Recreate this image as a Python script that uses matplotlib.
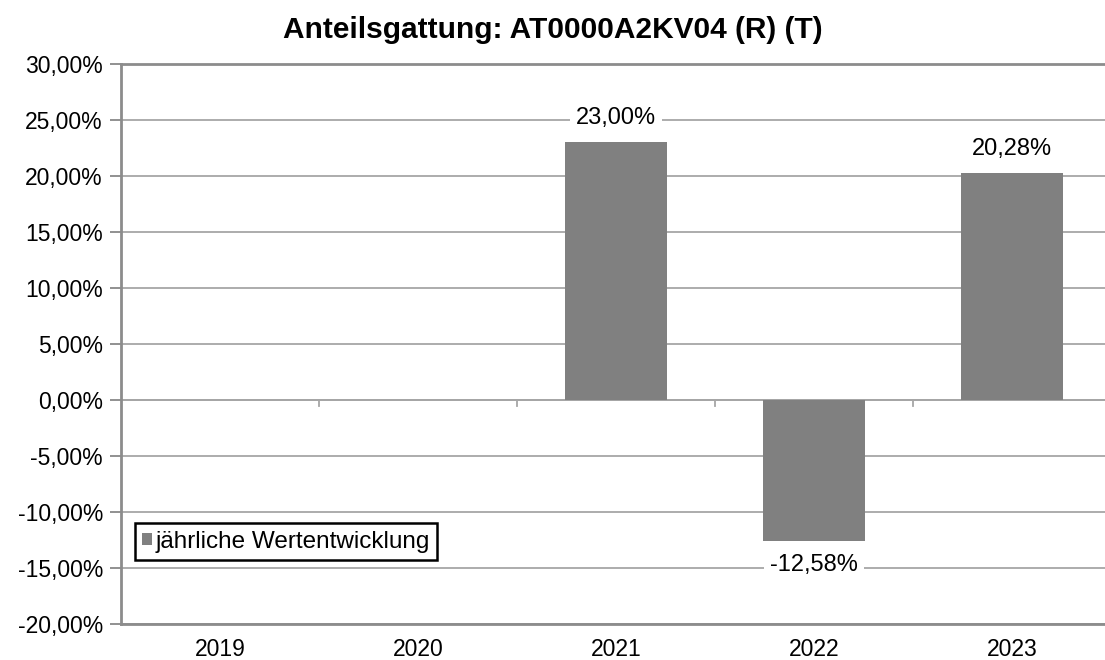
import numpy as np
import matplotlib.pyplot as plt
from matplotlib.ticker import FuncFormatter

plt.rcParams['font.family'] = ['Liberation Sans', 'DejaVu Sans']

# Daten
jahre = ['2019', '2020', '2021', '2022', '2023']
werte = [np.nan, np.nan, 23.00, -12.58, 20.28]
titel = 'Anteilsgattung: AT0000A2KV04 (R) (T)'
legende = 'jährliche Wertentwicklung'

grau = '#808080'
linie = '#a6a6a6'
fs = 16.5

fig = plt.figure(figsize=(11.05, 6.6), dpi=100)
ax = fig.add_axes([121 / 1105, 36 / 660, 990 / 1105, 560 / 660])

x = np.arange(len(jahre))
ax.bar(x, werte, width=0.52, color=grau, label=legende, zorder=3)

ax.set_xlim(-0.5, len(jahre) - 0.5)
ax.set_ylim(-20, 30)
ax.set_yticks(np.arange(-20, 31, 5))
ax.yaxis.set_major_formatter(FuncFormatter(lambda v, p: f'{v:.2f}%'.replace('.', ',')))
ax.set_xticks(x)
ax.set_xticklabels(jahre)
ax.tick_params(axis='x', length=0, pad=10, labelsize=fs)
ax.tick_params(axis='y', length=8, width=1.3, color='#888888', labelsize=fs, pad=5)

ax.yaxis.grid(True, color=linie, linewidth=1.3, zorder=0)
ax.axhline(0, color=linie, linewidth=1.3, zorder=1)
for b in np.arange(0.5, len(jahre) - 0.5):
    ax.plot([b, b], [0, -0.55], color=linie, linewidth=1.3, zorder=1)

for s in ['left', 'top', 'bottom']:
    ax.spines[s].set_color('#8c8c8c')
    ax.spines[s].set_linewidth(2)
ax.spines['right'].set_visible(False)

# Beschriftungen der Balken
for xi, v in zip(x, werte):
    if np.isnan(v):
        continue
    off = 24 if v >= 0 else -24
    ax.annotate(f'{v:.2f}%'.replace('.', ','), (xi, v), xytext=(0, off),
                textcoords='offset pixels', ha='center', va='center', fontsize=17,
                bbox=dict(facecolor='white', edgecolor='none', pad=4), zorder=4)

fig.text(0.5, 1 - 30 / 660, titel, ha='center', va='center', fontsize=21.5, fontweight='bold')

leg = ax.legend(loc='lower left', bbox_to_anchor=(2 / 990, 52 / 560), fontsize=17.5,
                fancybox=False, framealpha=1, edgecolor='black', handlelength=0.4,
                handleheight=0.4, handletextpad=0.15, borderpad=0.3)
leg.get_frame().set_linewidth(1.8)

plt.savefig('out.png', dpi=100)
